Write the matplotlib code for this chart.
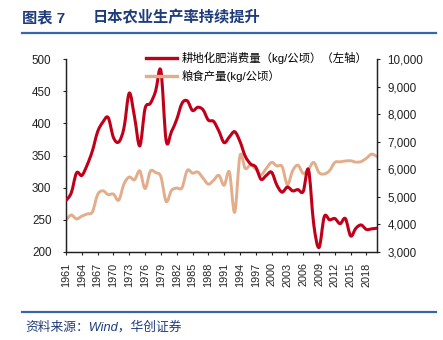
import matplotlib
matplotlib.use("Agg")
import matplotlib.pyplot as plt
import numpy as np
from matplotlib.path import Path
from matplotlib.patches import PathPatch
from matplotlib.lines import Line2D
from matplotlib.ticker import FuncFormatter, MultipleLocator

plt.rcParams['font.family'] = ['Liberation Sans', 'Noto Sans CJK SC', 'DejaVu Sans']

years = list(range(1961, 2021))

# 耕地化肥消费量 (kg/公顷), left axis
fertilizer = [280, 292, 323, 319, 335, 357, 387, 402, 409, 378,
              371, 393, 447, 410, 365, 423, 431, 450, 482, 373,
              387, 406, 431, 435, 420, 425, 421, 405, 403, 388,
              370, 379, 387, 372, 349, 337, 332, 313, 319, 324,
              304, 293, 301, 295, 297, 294, 328, 243, 207, 255,
              250, 252, 244, 252, 225, 237, 242, 235, 236, 237]

# 粮食产量 (kg/公顷), right axis
grain = [4160, 4340, 4200, 4300, 4380, 4450, 5080, 5220, 5080, 5100,
         4880, 5470, 5720, 5620, 5940, 5300, 5930, 5880, 5730, 4830,
         5230, 5320, 5330, 5960, 5860, 5900, 5680, 5460, 5600, 5780,
         5420, 5900, 4440, 6490, 6030, 6150, 6000, 5800, 6030, 6250,
         6120, 6100, 5450, 5950, 6150, 5850, 6000, 6250, 5880, 5830,
         5950, 6250, 6270, 6300, 6310, 6260, 6280, 6400, 6550, 6460]

tick_years = list(range(1961, 2019, 3))

label_fert = "耕地化肥消费量（kg/公顷）（左轴）"
label_grain = "粮食产量(kg/公顷）"
title_num = "图表 7"
title_text = "日本农业生产率持续提升"
source_text = "资料来源：Wind，华创证券"

RED = "#C0001A"
TAN = "#E3AD8B"
NAVY = "#1F3C7A"
RULE = "#3767A8"

W, H = 443, 340


def fx(x):
    return x / W


def fy(y):
    return 1 - y / H


def smooth_path(x, y):
    """Cubic Bezier path through the points (Catmull-Rom style tangents)."""
    x = np.asarray(x, float)
    y = np.asarray(y, float)
    pts = np.column_stack([x, y])
    n = len(pts)
    verts = [pts[0]]
    codes = [Path.MOVETO]
    for i in range(n - 1):
        p0 = pts[i - 1] if i > 0 else pts[i]
        p1 = pts[i]
        p2 = pts[i + 1]
        p3 = pts[i + 2] if i + 2 < n else pts[i + 1]
        c1 = p1 + (p2 - p0) / 6.0
        c2 = p2 - (p3 - p1) / 6.0
        verts += [c1, c2, p2]
        codes += [Path.CURVE4] * 3
    return Path(verts, codes)


fig = plt.figure(figsize=(W / 100, H / 100), dpi=100)
ax = fig.add_axes([fx(66), fy(252), fx(377) - fx(66), fy(59) - fy(252)])
ax2 = ax.twinx()

ax.set_xlim(1961, 2020)
ax.set_ylim(200, 500)
ax2.set_ylim(3000, 10000)

ax.add_patch(PathPatch(smooth_path(years, fertilizer), fill=False,
                       edgecolor=RED, lw=2.2, capstyle='round',
                       joinstyle='round', zorder=3))
ax2.add_patch(PathPatch(smooth_path(years, grain), fill=False,
                        edgecolor=TAN, lw=2.1, capstyle='round',
                        joinstyle='round', zorder=2))
ax.set_zorder(ax2.get_zorder() + 1)
ax.patch.set_visible(False)

for a in (ax, ax2):
    a.spines['top'].set_visible(False)
    for s in a.spines.values():
        s.set_linewidth(0.9)
        s.set_color("#222222")

ax.set_xticks(tick_years)
ax.set_xticklabels([str(y) for y in tick_years], rotation=90, fontsize=7.8)
ax.yaxis.set_major_locator(MultipleLocator(50))
ax2.yaxis.set_major_locator(MultipleLocator(1000))
ax2.yaxis.set_major_formatter(FuncFormatter(lambda v, p: f"{int(v):,}"))

ax.tick_params(axis='x', direction='out', length=2.5, width=0.8, pad=5,
               colors="#222222", labelcolor="#222222")
ax.tick_params(axis='y', direction='out', length=2.5, width=0.8, pad=8,
               labelsize=8.4, colors="#222222", labelcolor="#222222")
ax2.tick_params(axis='y', direction='out', length=2.5, width=0.8, pad=5,
                labelsize=8.4, colors="#222222", labelcolor="#222222")

handles = [Line2D([], [], color=RED, lw=2.4),
           Line2D([], [], color=TAN, lw=2.4)]
fig.legend(handles, [label_fert, label_grain], loc='upper left',
           bbox_to_anchor=(fx(146), fy(52)), frameon=False, fontsize=8.2,
           handlelength=2.7, handletextpad=0.4, labelspacing=0.5,
           borderpad=0, borderaxespad=0)

# Header and footer
fig.text(fx(22), fy(18), title_num, fontsize=11, fontweight='bold',
         color=NAVY, va='center', ha='left')
fig.text(fx(93), fy(18), title_text, fontsize=11, fontweight='bold',
         color=NAVY, va='center', ha='left')
fig.add_artist(Line2D([fx(22), fx(436)], [fy(33), fy(33)], color=RULE, lw=1.6))
fig.add_artist(Line2D([fx(22), fx(436)], [fy(312), fy(312)], color=RULE, lw=1.6))
fig.text(fx(25), fy(327), source_text, fontsize=9.2, color=NAVY,
         va='center', ha='left', style='italic')

fig.savefig("out.png", dpi=100)
